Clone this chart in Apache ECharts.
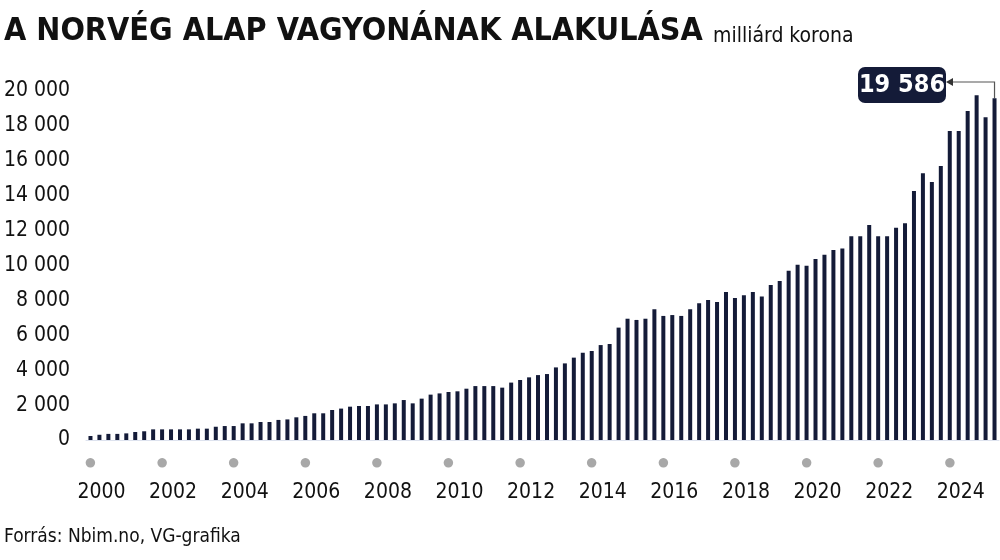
<!DOCTYPE html>
<html><head><meta charset="utf-8">
<script src="https://cdn.jsdelivr.net/npm/echarts@6/dist/echarts.min.js"></script>
<style>body{margin:0;background:#fff}#c{width:1000px;height:560px}</style></head>
<body><div id="c"></div>
<script>
const quarters = [];
for (let y = 2000; y <= 2025; y++) for (let q = 1; q <= 4; q++) { if (y === 2025 && q > 2) break; quarters.push(y + 'Q' + q); }
const values = [230,300,350,350,380,460,500,610,610,610,610,610,650,650,760,800,800,955,955,1030,1030,1150,1180,1300,1380,1530,1530,1720,1800,1910,1950,1950,2040,2040,2100,2290,2100,2370,2600,2670,2750,2790,2940,3090,3090,3090,3000,3290,3440,3590,3720,3780,4160,4390,4720,5000,5100,5440,5500,6440,6950,6880,6950,7490,7110,7160,7110,7490,7830,8020,7910,8480,8140,8290,8480,8230,8880,9110,9700,10050,9990,10370,10620,10890,10980,11670,11670,12320,11670,11670,12170,12420,14270,15280,14790,15700,17710,17710,18850,19750,18490,19586];
const lastLabel = '19 586';
const font = '"Liberation Sans Narrow", "DejaVu Sans Condensed", sans-serif';
const chart = echarts.init(document.getElementById('c'));
chart.setOption({
  animation:false,
  grid:{left:86,right:1,top:91,bottom:120},
  xAxis:{type:'category',data:quarters,
    axisLine:{lineStyle:{color:'#dde2ee'}},axisTick:{show:false},
    axisLabel:{interval:0,margin:10,
      formatter:(v,i)=>{const y=+v.slice(0,4);return (v.endsWith('Q1')&&y%2===0&&y<=2024)?'{d|●}\n{y|'+y+'}':'';},
      rich:{d:{color:'#a8a8a8',fontSize:22,align:'center',lineHeight:26},
            y:{fontFamily:font,fontSize:21,color:'#111',padding:[0,0,0,22],lineHeight:34}}}},
  yAxis:{type:'value',min:0,max:20000,interval:2000,splitLine:{show:false},
    axisLabel:{fontFamily:font,fontSize:21,color:'#111',margin:16,formatter:v=>v===0?'0':(v/1000)+' 000'}},
  series:[{type:'bar',data:values,barWidth:4,itemStyle:{color:'#141b38'}}]
});
const n = values.length-1;
const p = chart.convertToPixel({xAxisIndex:0,yAxisIndex:0},[n,values[n]]);
const bx = 858, by = 67, bw = 88, bh = 36;
chart.setOption({graphic:[
  {type:'text',left:4,top:16,style:{text:'A NORVÉG ALAP VAGYONÁNAK ALAKULÁSA',fontFamily:font,fontWeight:'bold',fontSize:32,fill:'#111'}},
  {type:'text',left:713,top:26,style:{text:'milliárd korona',fontFamily:font,fontSize:21,fill:'#111'}},
  {type:'text',left:4,top:528,style:{text:'Forrás: Nbim.no, VG-grafika',fontFamily:font,fontSize:19,fill:'#111'}},
  {type:'rect',shape:{x:bx,y:by,width:bw,height:bh,r:7},style:{fill:'#141b38'}},
  {type:'text',x:bx+bw/2,y:by+bh/2,style:{text:lastLabel,fontFamily:font,fontWeight:'bold',fontSize:25,fill:'#fff',align:'center',verticalAlign:'middle'}},
  {type:'polyline',shape:{points:[[bx+bw+4,by+bh/2-3],[p[0],by+bh/2-3],[p[0],p[1]]]},style:{stroke:'#555',lineWidth:1.2,fill:null}},
  {type:'polygon',shape:{points:[[bx+bw,by+bh/2-3],[bx+bw+7,by+bh/2-7],[bx+bw+7,by+bh/2+1]]},style:{fill:'#333'}}
]});
</script></body></html>
